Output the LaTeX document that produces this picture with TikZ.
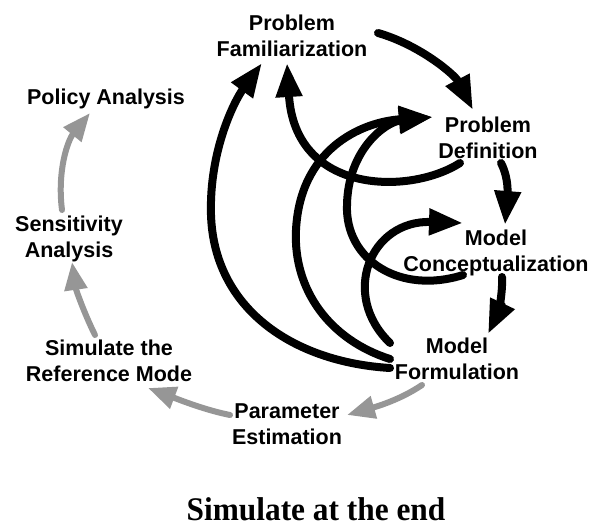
\documentclass[tikz,border=0pt]{standalone}
\usepackage{fontspec}
\setmainfont{Liberation Sans}
\newfontfamily\titlefont{Liberation Serif}
\usetikzlibrary{arrows.meta}
\definecolor{arrgray}{RGB}{150,150,150}
\newcommand\twol[2]{\begin{tabular}[t]{@{}c@{}}#1\\#2\end{tabular}}
\tikzset{
  lbl/.style={font=\fontsize{21.5}{26}\selectfont\bfseries, inner sep=0pt, anchor=base},
  ttl/.style={font=\titlefont\fontsize{33}{40}\selectfont\bfseries, inner sep=0pt, anchor=base, xscale=0.95},
  blk/.style={line width=8pt, line cap=round, -{Triangle[length=34pt,width=25pt]}},
  gry/.style={arrgray, line width=6pt, line cap=round, -{Triangle[length=28pt,width=22pt]}},
}
\begin{document}
\begin{tikzpicture}[x=1pt,y=-1pt]
\useasboundingbox (0,0) rectangle (592,527);
% labels
\node[lbl] (pf) at (292,31) {\twol{Problem}{Familiarization}};
\node[lbl] (pd) at (488,132) {\twol{Problem}{Definition}};
\node[lbl] (mc) at (496,245) {\twol{Model}{Conceptualization}};
\node[lbl] (mf) at (457,353) {\twol{Model}{Formulation}};
\node[lbl] (pe) at (287,418) {\twol{Parameter}{Estimation}};
\node[lbl] (srm) at (109,355) {\twol{Simulate the}{Reference Mode}};
\node[lbl] (sa) at (69,231) {\twol{Sensitivity}{Analysis}};
\node[lbl] (pa) at (106,105) {Policy Analysis};
\node[ttl, transform shape] (title) at (316,520) {Simulate at the end};
% connector end points
\coordinate (pf-out) at (378,33);
\coordinate (pf-in1) at (262,63);
\coordinate (pf-in2) at (287,63);
\coordinate (pd-in) at (473,110);
\coordinate (pd-in2) at (433,117);
\coordinate (pd-out) at (501,163);
\coordinate (pd-back) at (460,163);
\coordinate (mc-in) at (505,225);
\coordinate (mc-in2) at (463,223);
\coordinate (mc-out) at (502,277);
\coordinate (mc-back) at (463,275);
\coordinate (mf-in) at (488,334);
\coordinate (mf-b1) at (390,368);
\coordinate (mf-b2) at (390,359);
\coordinate (mf-b3) at (390,343);
\coordinate (mf-out) at (422,385);
\coordinate (pe-in) at (347,415);
\coordinate (pe-out) at (230,415);
\coordinate (srm-in) at (148,388);
\coordinate (srm-out) at (95,335);
\coordinate (sa-in) at (72,262);
\coordinate (sa-out) at (62,210);
\coordinate (pa-in) at (90,113);
% main sequence
\draw[blk] (pf-out) .. controls (420,45) and (455,75) .. (pd-in);
\draw[blk] (pd-out) .. controls (510,180) and (507,200) .. (mc-in);
\draw[blk] (mc-out) .. controls (503,295) and (497,315) .. (mf-in);
% feedback
\draw[blk] (mf-b1) .. controls (292,362) and (214,308) .. (211,215) .. controls (209,150) and (235,100) .. (pf-in1);
\draw[blk] (pd-back) .. controls (410,195) and (295,195) .. (pf-in2);
\draw[blk] (mf-b2) .. controls (330,340) and (293,290) .. (296,230) .. controls (300,150) and (360,122) .. (pd-in2);
\draw[blk] (mc-back) .. controls (400,295) and (345,260) .. (347,205) .. controls (348,150) and (385,122) .. (pd-in2);
\draw[blk] (mf-b3) .. controls (340,295) and (370,220) .. (mc-in2);
% grey sequence
\draw[gry] (mf-out) .. controls (400,400) and (375,407) .. (pe-in);
\draw[gry] (pe-out) .. controls (205,410) and (180,400) .. (srm-in);
\draw[gry] (srm-out) .. controls (85,315) and (76,290) .. (sa-in);
\draw[gry] (sa-out) .. controls (57,170) and (68,140) .. (pa-in);
\end{tikzpicture}
\end{document}
